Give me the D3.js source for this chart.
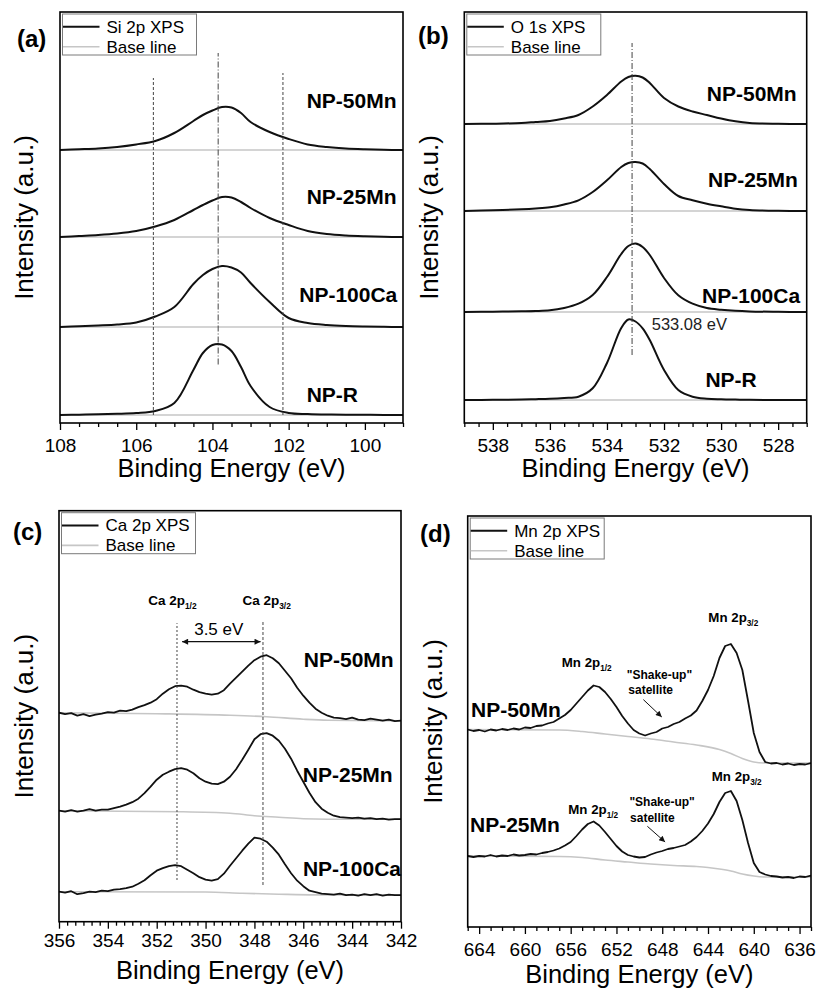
<!DOCTYPE html>
<html>
<head>
<meta charset="utf-8">
<script src="https://cdn.jsdelivr.net/npm/d3@7"></script>
<style>
  body { margin: 0; background: #fff; }
  svg { display: block; font-family: "Liberation Sans", Arial, sans-serif; }
</style>
</head>
<body>
<svg id="chart" width="818" height="989"></svg>
<script>
//======
// Data
//======

// intensity is in arbitrary units, 0..411 over the height of every frame
var INTENSITY_MAX = 411;

var yLabel = "Intensity (a.u.)";
var xLabel = "Binding Energy (eV)";
var baseLabel = "Base line";

// (a) Si 2p
var siEnergy = [108, 107.5, 107, 106.5, 106, 105.5, 105, 104.5, 104.25, 104, 103.75, 103.5, 103.25, 103, 102.5, 102, 101.5, 101, 100.5, 100, 99.5, 99];
var siNP50Mn = [273, 273.7, 274.5, 276, 278.5, 282, 290, 302, 308, 312.5, 316, 315.5, 310, 301, 291, 284, 278.5, 276, 274.5, 273.7, 273.2, 273];
var siNP25Mn = [186, 187, 188, 189.5, 192, 196.5, 203, 213, 218, 222.5, 226, 225.5, 221, 215, 205, 198, 192, 189, 187.5, 186.7, 186.2, 186];
var siNP100Ca = [96, 96.7, 97.5, 98.5, 100.5, 106.5, 116, 139, 148, 154, 157, 155.5, 150.5, 140, 121, 105, 100, 98, 97, 96.5, 96.2, 96];
var siNPR = [8, 8.3, 8.7, 9.2, 10, 12, 20, 53, 70, 78, 78.5, 72, 56, 37, 16, 10, 9, 8.5, 8.3, 8.2, 8, 8];
var siBaseLevels = [273, 186, 96, 8];
var siTicks = [108, 106, 104, 102, 100];
var siSamples = ["NP-50Mn", "NP-25Mn", "NP-100Ca", "NP-R"];
var siMarkers = [105.55, 103.85, 102.15];

// (b) O 1s
var oEnergy = [539, 538, 537, 536.5, 536, 535.5, 535, 534.5, 534, 533.5, 533.25, 533, 532.75, 532.5, 532, 531.5, 531, 530.5, 530, 529.5, 529, 528, 527];
var oNP50Mn = [299, 299.3, 300, 301, 302, 304.5, 308, 316.5, 328, 341.5, 346, 347.3, 345.5, 340, 325, 316.5, 311.5, 308, 304.5, 301.7, 300, 299.2, 299];
var oNP25Mn = [212, 212.7, 213.7, 214.5, 215.7, 218.5, 222.7, 231, 242.7, 256, 260, 261, 259.5, 254, 239, 227, 222.7, 219.3, 216.7, 214.3, 213, 212.2, 212];
var oNP100Ca = [111, 111.3, 111.7, 112, 112.7, 115, 119.3, 128, 146, 169, 177, 179.4, 176, 168, 145, 127.7, 119.3, 115, 113.3, 112.2, 111.6, 111.2, 111];
var oNPR = [23, 23.2, 23.5, 23.8, 24.2, 25, 26.3, 34.7, 60, 95, 103.5, 101.5, 94.7, 83, 53, 33, 26.3, 24.3, 23.7, 23.4, 23.2, 23, 23];
var oBaseLevels = [299, 212, 111, 23];
var oTicks = [538, 536, 534, 532, 530, 528];
var oSamples = ["NP-50Mn", "NP-25Mn", "NP-100Ca", "NP-R"];
var oPeak = 533.12;
var oPeakLabel = "533.08 eV";

// (c) Ca 2p
var caEnergy = [356, 355.75, 355.5, 355.25, 355, 354.75, 354.5, 354.25, 354, 353.75, 353.5, 353.25, 353, 352.75, 352.5, 352.25, 352, 351.75, 351.5, 351.25, 351, 350.75, 350.5, 350.25, 350, 349.75, 349.5, 349.25, 349, 348.75, 348.5, 348.25, 348, 347.75, 347.5, 347.25, 347, 346.75, 346.5, 346.25, 346, 345.75, 345.5, 345.25, 345, 344.75, 344.5, 344.25, 344, 343.75, 343.5, 343.25, 343, 342.75, 342.5, 342.25, 342];
var caNP50Mn = [209, 207.5, 208.5, 206, 207.5, 205.5, 207, 208, 209.5, 209, 211, 210.5, 212, 214.5, 216.5, 219, 222.5, 228, 232.5, 235.5, 236, 235, 232, 229.5, 228, 227, 228, 231.5, 238, 244, 250, 256, 261.5, 265, 266.5, 263.5, 258.5, 251, 243.5, 234, 226, 219, 213, 209, 206, 204, 203.5, 202.5, 204, 202, 201.5, 203, 202, 201, 202, 200.5, 201];
var caNP25Mn = [111, 110, 111.5, 110, 111, 112.5, 111, 112, 112, 113.5, 115, 117, 119.5, 123, 128.5, 135, 142, 147, 150, 152.5, 153.5, 152, 148.5, 143.5, 140, 138, 137.5, 140, 145, 152.5, 162, 172, 182.5, 187.5, 188.5, 186, 181, 173, 163, 151, 140, 129, 119.5, 113, 109, 106, 104.5, 104, 103.5, 104, 103, 103.5, 102.5, 103, 102, 102.5, 102.5];
var caNP100Ca = [30, 29, 30.5, 27.5, 28.5, 30, 29.5, 31, 30.5, 32, 32.5, 33.5, 35, 38, 41.5, 46.5, 51, 53.5, 55.5, 56.5, 55.5, 52, 48.5, 44.5, 42, 41, 42.5, 48, 56, 63.5, 71, 78, 84, 83, 80, 74, 67, 57.5, 48.5, 41, 35.5, 31, 29.5, 28, 27.5, 27, 28, 26.5, 27, 26, 27.5, 26.5, 27.5, 26, 27, 26.5, 26.5];
var caBase50Mn = [[356, 209], [352, 208], [349, 206.5], [347.5, 205], [346, 202.5], [345, 201.5], [342, 201]];
var caBase25Mn = [[356, 111], [351, 110], [349, 108.5], [348, 106], [347, 104.5], [346, 103], [345, 102.5], [342, 102.4]];
var caBase100Ca = [[356, 30], [350, 29.7], [348.5, 28.5], [347, 27.5], [345.5, 26.8], [342, 26.7]];
var caTicks = [356, 354, 352, 350, 348, 346, 344, 342];
var caSamples = ["NP-50Mn", "NP-25Mn", "NP-100Ca"];
var caPeaks = [351.17, 347.65];
var caSplit = "3.5 eV";

// (d) Mn 2p
var mnEnergy = [665, 664.5, 664, 663.5, 663, 662.5, 662, 661.5, 661, 660.5, 660, 659.5, 659, 658.5, 658, 657.5, 657, 656.5, 656, 655.5, 655, 654.5, 654, 653.5, 653, 652.5, 652, 651.5, 651, 650.5, 650, 649.5, 649, 648.5, 648, 647.5, 647, 646.5, 646, 645.5, 645, 644.5, 644, 643.5, 643, 642.5, 642, 641.5, 641, 640.5, 640, 639.5, 639, 638.5, 638, 637.5, 637, 636.5, 636, 635.5, 635];
var mnNP50Mn = [197.5, 196, 197, 195.5, 197.5, 196.5, 198, 197, 198.5, 197.5, 199.5, 199, 201, 201.5, 203.5, 205, 208.5, 212, 217, 223.5, 230, 236.5, 241.5, 240, 235, 228, 220, 211, 203.5, 197, 193.5, 191.5, 193.5, 195, 198.5, 200, 203, 205, 208.5, 211.5, 216.5, 226, 237, 251, 269, 281, 283, 274, 257, 226, 194, 175, 165, 163.5, 164, 162.5, 163.5, 162, 163, 162.5, 164];
var mnNP25Mn = [71, 70, 71, 70.5, 72, 70.5, 71.5, 71, 72.5, 71.5, 72, 73, 72.5, 74, 75, 76.5, 78.5, 81.5, 85, 91, 97.5, 103, 105.5, 101.5, 95, 88, 81, 75.5, 72, 70.5, 69.5, 70, 72.5, 74.5, 76, 78, 79, 80.5, 82, 85.5, 90, 96, 103.5, 113, 125, 134, 136, 126, 107, 84, 64, 55, 52.5, 51, 50.5, 49.5, 50, 49, 50.5, 50, 51.5];
var mnBase50Mn = [[665, 197.4], [657, 197], [655, 195.5], [653, 193], [651, 190.5], [649, 188], [647, 185], [645, 182], [643, 177.5], [642, 173.5], [641, 168.5], [640, 165], [639, 164], [635, 164]];
var mnBase25Mn = [[665, 71], [657, 70.5], [655, 69.5], [653, 67], [651, 65], [649, 63], [647, 61.5], [645, 60.5], [644, 59.5], [643, 58], [642, 56], [641, 53], [640, 51], [639, 50], [635, 50]];
var mnTicks = [664, 660, 656, 652, 648, 644, 640, 636];
var mnSamples = ["NP-50Mn", "NP-25Mn"];

//=========
// Helpers
//=========

var svg = d3.select("#chart");
var CURVE = "#111";
var BASE = "#c6c6c6";
var SMOOTH = d3.curveCatmullRom.alpha(0.5);

var defs = svg.append("defs");
defs.append("marker")
  .attr("id", "arrowHead")
  .attr("viewBox", "0 0 10 10")
  .attr("refX", 10).attr("refY", 5)
  .attr("markerWidth", 8).attr("markerHeight", 6)
  .attr("markerUnits", "userSpaceOnUse")
  .attr("orient", "auto-start-reverse")
  .append("path").attr("d", "M0,0L10,5L0,10z").attr("fill", "#111");

function minorTicks(domain, step, majors) {
  var lo = d3.min(domain), hi = d3.max(domain);
  return d3.range(lo, hi + 1e-6, step).filter(function (v) {
    return !majors.some(function (m) { return Math.abs(m - v) < 1e-4; });
  });
}

function setupPanel(cfg) {
  var g = svg.append("g").attr("transform", "translate(" + [cfg.left, cfg.top] + ")");
  var x = d3.scaleLinear().domain(cfg.xDomain).range([0, cfg.width]);
  var y = d3.scaleLinear().domain([0, INTENSITY_MAX]).range([cfg.height, 0]);

  defs.append("clipPath").attr("id", "clip" + cfg.id)
    .append("rect").attr("width", cfg.width).attr("height", cfg.height);
  var plot = g.append("g").attr("clip-path", "url(#clip" + cfg.id + ")");

  var minorAxis = d3.axisBottom(x)
    .tickValues(minorTicks(cfg.xDomain, cfg.minorStep, cfg.ticks))
    .tickSize(4).tickSizeOuter(0).tickFormat("");
  var majorAxis = d3.axisBottom(x)
    .tickValues(cfg.ticks)
    .tickSize(7).tickSizeOuter(0).tickPadding(cfg.tickPad)
    .tickFormat(d3.format("d"));

  var gMinor = g.append("g")
    .attr("transform", "translate(0," + cfg.height + ")")
    .call(minorAxis);
  gMinor.selectAll(".tick text").remove();

  var gMajor = g.append("g")
    .attr("transform", "translate(0," + cfg.height + ")")
    .call(majorAxis)
    .attr("font-family", null)
    .attr("font-size", 19);

  [gMinor, gMajor].forEach(function (a) {
    a.select(".domain").remove();
    a.selectAll(".tick line").attr("stroke", "#000").attr("stroke-width", 1.3);
    a.selectAll(".tick text").attr("fill", "#000");
  });

  g.append("rect")
    .attr("width", cfg.width).attr("height", cfg.height)
    .attr("fill", "none").attr("stroke", "#000").attr("stroke-width", 1.6);

  g.append("text")
    .attr("x", cfg.width / 2).attr("y", cfg.titleY)
    .attr("text-anchor", "middle").attr("font-size", 25.5)
    .text(xLabel);

  svg.append("text")
    .attr("transform", "translate(" + cfg.yLabelX + "," + (cfg.top + cfg.height / 2) + ") rotate(-90)")
    .attr("text-anchor", "middle").attr("font-size", 26)
    .text(yLabel);

  svg.append("text")
    .attr("x", cfg.tagX).attr("y", cfg.tagY)
    .attr("font-size", 24).attr("font-weight", "bold")
    .text(cfg.tag);

  // legend
  var lg = g.append("g").attr("transform", "translate(2.5,2)");
  lg.append("rect").attr("width", 134).attr("height", 41)
    .attr("fill", "#fff").attr("stroke", "#7a7a7a").attr("stroke-width", 1);
  lg.append("line").attr("x1", 0.5).attr("x2", 37).attr("y1", 12.7).attr("y2", 12.7)
    .attr("stroke", CURVE).attr("stroke-width", 2);
  lg.append("line").attr("x1", 0.5).attr("x2", 37).attr("y1", 32.7).attr("y2", 32.7)
    .attr("stroke", BASE).attr("stroke-width", 1.6);
  lg.append("text").attr("x", 44).attr("y", 18.5).attr("font-size", 17).text(cfg.legend);
  lg.append("text").attr("x", 44).attr("y", 38.5).attr("font-size", 17).text(baseLabel);

  return {g: g, plot: plot, x: x, y: y, width: cfg.width};
}

function drawSpectrum(p, energy, values, curve, width) {
  var line = d3.line()
    .x(function (d, i) { return p.x(energy[i]); })
    .y(function (d) { return p.y(d); })
    .curve(curve);
  p.plot.append("path").datum(values)
    .attr("d", line).attr("fill", "none")
    .attr("stroke", CURVE).attr("stroke-width", width)
    .attr("stroke-linejoin", "round");
}

function drawFlatBase(p, level) {
  var dom = p.x.domain();
  p.plot.append("line")
    .attr("x1", p.x(dom[0])).attr("x2", p.x(dom[1]))
    .attr("y1", p.y(level)).attr("y2", p.y(level))
    .attr("stroke", BASE).attr("stroke-width", 1.6);
}

function drawCurvedBase(p, pts) {
  var line = d3.line()
    .x(function (d) { return p.x(d[0]); })
    .y(function (d) { return p.y(d[1]); })
    .curve(d3.curveMonotoneX);
  p.plot.append("path").datum(pts)
    .attr("d", line).attr("fill", "none")
    .attr("stroke", BASE).attr("stroke-width", 1.6);
}

function vline(p, e, from, to, dash) {
  p.g.append("line")
    .attr("x1", p.x(e)).attr("x2", p.x(e))
    .attr("y1", p.y(from)).attr("y2", p.y(to))
    .attr("stroke", "#444").attr("stroke-width", 1)
    .attr("stroke-dasharray", dash);
}

function sampleLabel(p, text, e, v, anchor, size) {
  p.g.append("text")
    .attr("x", p.x(e)).attr("y", p.y(v))
    .attr("text-anchor", anchor)
    .attr("font-size", size).attr("font-weight", "bold")
    .text(text);
}

function subLabel(p, main, sub, e, v, anchor, size) {
  var t = p.g.append("text")
    .attr("x", p.x(e)).attr("y", p.y(v))
    .attr("text-anchor", anchor)
    .attr("font-size", size).attr("font-weight", "bold");
  t.append("tspan").text(main);
  t.append("tspan").attr("font-size", size * 0.62).attr("dy", size * 0.28).text(sub);
}

function arrow(p, e1, v1, e2, v2, both, w) {
  var l = p.g.append("line")
    .attr("x1", p.x(e1)).attr("y1", p.y(v1))
    .attr("x2", p.x(e2)).attr("y2", p.y(v2))
    .attr("stroke", "#111").attr("stroke-width", w)
    .attr("marker-end", "url(#arrowHead)");
  if (both) l.attr("marker-start", "url(#arrowHead)");
}

//===========
// (a) Si 2p
//===========

var pa = setupPanel({
  id: "a", tag: "(a)", tagX: 17, tagY: 46.5,
  left: 60, top: 12, width: 343, height: 411,
  xDomain: [108, 99], ticks: siTicks, minorStep: 0.5, tickPad: 8.5,
  titleY: 465, yLabelX: 33, legend: "Si 2p XPS"
});

siBaseLevels.forEach(function (lv) { drawFlatBase(pa, lv); });
[siNP50Mn, siNP25Mn, siNP100Ca, siNPR].forEach(function (s) {
  drawSpectrum(pa, siEnergy, s, SMOOTH, 2);
});
vline(pa, siMarkers[0], 8, 345, "3,2");
vline(pa, siMarkers[2], 8, 350, "3,2");
vline(pa, siMarkers[1], 58.5, 370, "6,2,1,2");

sampleLabel(pa, siSamples[0], 99.17, 314.7, "end", 21);
sampleLabel(pa, siSamples[1], 99.17, 219, "end", 21);
sampleLabel(pa, siSamples[2], 99.15, 121.3, "end", 21);
sampleLabel(pa, siSamples[3], 100.18, 21.3, "end", 21);

//==========
// (b) O 1s
//==========

var pb = setupPanel({
  id: "b", tag: "(b)", tagX: 418, tagY: 44,
  left: 464.3, top: 12, width: 342.4, height: 411,
  xDomain: [539, 527], ticks: oTicks, minorStep: 0.5, tickPad: 8.5,
  titleY: 465, yLabelX: 438, legend: "O 1s XPS"
});

oBaseLevels.forEach(function (lv) { drawFlatBase(pb, lv); });
[oNP50Mn, oNP25Mn, oNP100Ca, oNPR].forEach(function (s) {
  drawSpectrum(pb, oEnergy, s, SMOOTH, 2);
});
vline(pb, oPeak, 68, 380, "6,2,1,2");

pb.g.append("text")
  .attr("x", pb.x(532.43)).attr("y", pb.y(93))
  .attr("font-size", 16.5).attr("fill", "#222")
  .text(oPeakLabel);

sampleLabel(pb, oSamples[0], 527.35, 322.3, "end", 21);
sampleLabel(pb, oSamples[1], 527.31, 235.7, "end", 21);
sampleLabel(pb, oSamples[2], 527.23, 119.7, "end", 21);
sampleLabel(pb, oSamples[3], 528.75, 36.3, "end", 21);

//===========
// (c) Ca 2p
//===========

var pc = setupPanel({
  id: "c", tag: "(c)", tagX: 13, tagY: 540,
  left: 59, top: 510.7, width: 342, height: 411,
  xDomain: [356, 342], ticks: caTicks, minorStep: 1 / 3, tickPad: 4.5,
  titleY: 468.3, yLabelX: 33, legend: "Ca 2p XPS"
});

[caBase50Mn, caBase25Mn, caBase100Ca].forEach(function (b) { drawCurvedBase(pc, b); });
[caNP50Mn, caNP25Mn, caNP100Ca].forEach(function (s) {
  drawSpectrum(pc, caEnergy, s, d3.curveLinear, 1.8);
});
vline(pc, caPeaks[0], 41.7, 298.5, "2,2");
vline(pc, caPeaks[1], 36.7, 301.7, "3,2");

subLabel(pc, "Ca 2p", "1/2", 351.36, 316.7, "middle", 13.5);
subLabel(pc, "Ca 2p", "3/2", 347.5, 316.7, "middle", 13.5);
arrow(pc, 350.96, 280, 347.75, 280, true, 1.2);
pc.g.append("text")
  .attr("x", pc.x(349.46)).attr("y", pc.y(286.7))
  .attr("text-anchor", "middle").attr("font-size", 17)
  .text(caSplit);

sampleLabel(pc, caSamples[0], 342.3, 255, "end", 21);
sampleLabel(pc, caSamples[1], 342.34, 140, "end", 21);
sampleLabel(pc, caSamples[2], 342.0, 45.7, "end", 21);

//===========
// (d) Mn 2p
//===========

var pd = setupPanel({
  id: "d", tag: "(d)", tagX: 420, tagY: 542,
  left: 467.7, top: 516, width: 343.3, height: 411,
  xDomain: [665, 635], ticks: mnTicks, minorStep: 1, tickPad: 8.8,
  titleY: 466.5, yLabelX: 442, legend: "Mn 2p XPS"
});

[mnBase50Mn, mnBase25Mn].forEach(function (b) { drawCurvedBase(pd, b); });
[mnNP50Mn, mnNP25Mn].forEach(function (s) {
  drawSpectrum(pd, mnEnergy, s, d3.curveLinear, 1.8);
});

sampleLabel(pd, mnSamples[0], 664.71, 210, "start", 21);
sampleLabel(pd, mnSamples[1], 664.8, 95, "start", 21);

// NP-50Mn annotations
subLabel(pd, "Mn 2p", "1/2", 656.78, 260, "start", 13.3);
subLabel(pd, "Mn 2p", "3/2", 643.97, 304.7, "start", 13.3);
sampleLabel(pd, "\"Shake-up\"", 651.1, 247.7, "start", 12);
sampleLabel(pd, "satellite", 650.96, 232.7, "start", 12);
arrow(pd, 649.65, 227.4, 648.04, 210, false, 1);

// NP-25Mn annotations
subLabel(pd, "Mn 2p", "1/2", 656.21, 112.7, "start", 13.3);
subLabel(pd, "Mn 2p", "3/2", 643.67, 146, "start", 13.3);
sampleLabel(pd, "\"Shake-up\"", 650.87, 121, "start", 12);
sampleLabel(pd, "satellite", 650.81, 105, "start", 12);
arrow(pd, 649.3, 100.7, 647.75, 85, false, 1);
</script>
</body>
</html>
